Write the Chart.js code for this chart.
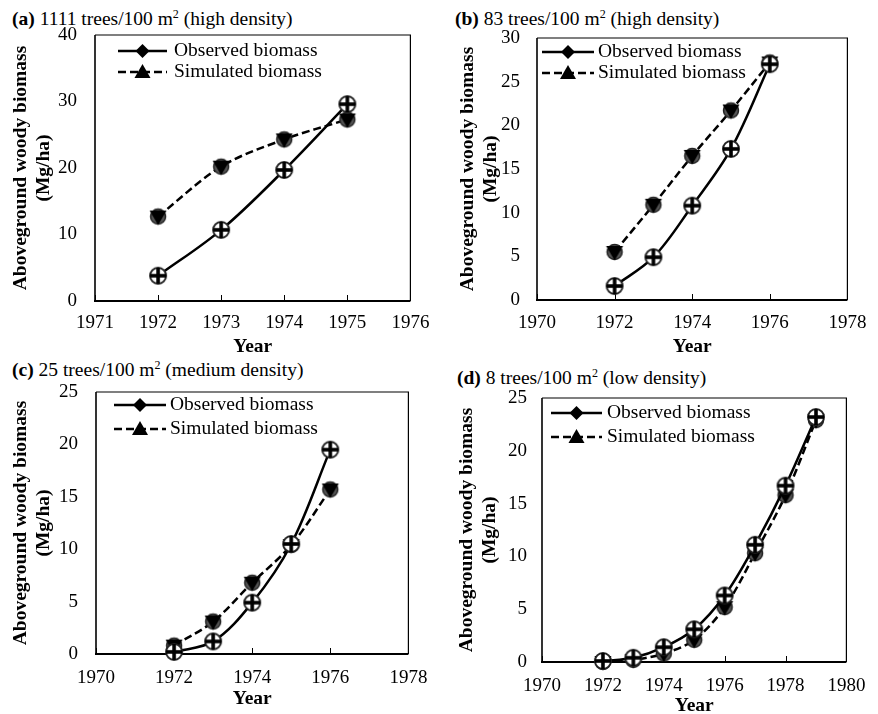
<!DOCTYPE html>
<html><head><meta charset="utf-8">
<script src="https://cdn.jsdelivr.net/npm/chart.js@4"></script>
<style>
html,body{margin:0;padding:0;background:#fff;}
body{width:878px;height:714px;position:relative;overflow:hidden;font-family:"Liberation Serif","Times New Roman",serif;color:#000;}
.panel{position:absolute;}
.ttl{position:absolute;font-size:19.5px;white-space:nowrap;line-height:1;}
.ttl sup{font-size:12px;vertical-align:top;position:relative;top:-1px;}
</style></head><body>
<div class="ttl" style="left:12px;top:9px;"><b>(a)</b> 1111 trees/100 m<sup>2</sup> (high density)</div>
<div class="ttl" style="left:455px;top:9px;"><b>(b)</b> 83 trees/100 m<sup>2</sup> (high density)</div>
<div class="ttl" style="left:12px;top:360px;"><b>(c)</b> 25 trees/100 m<sup>2</sup> (medium density)</div>
<div class="ttl" style="left:457px;top:368px;"><b>(d)</b> 8 trees/100 m<sup>2</sup> (low density)</div>
<div class="panel" style="left:0;top:0;"><canvas id="ca" width="440" height="360"></canvas></div>
<div class="panel" style="left:440px;top:0;"><canvas id="cb" width="438" height="360"></canvas></div>
<div class="panel" style="left:0;top:357px;"><canvas id="cc" width="440" height="357"></canvas></div>
<div class="panel" style="left:440px;top:357px;"><canvas id="cd" width="438" height="357"></canvas></div>
<script>
// ---- data ----
const seriesLabels = ['Observed biomass', 'Simulated biomass'];
const xTitle = 'Year';
const yTitle = ['Aboveground woody biomass', '(Mg/ha)'];

const yearsA = [1972, 1973, 1974, 1975];
const observedA = [3.8, 10.7, 19.7, 29.6];
const simulatedA = [12.7, 20.2, 24.3, 27.3];
const xRangeA = [1971, 1976, 1];
const yRangeA = [0, 40, 10];

const yearsB = [1972, 1973, 1974, 1975, 1976];
const observedB = [1.6, 4.9, 10.8, 17.3, 27.0];
const simulatedB = [5.5, 10.9, 16.5, 21.7, 27.2];
const xRangeB = [1970, 1978, 2];
const yRangeB = [0, 30, 5];

const yearsC = [1972, 1973, 1974, 1975, 1976];
const observedC = [0.2, 1.2, 4.9, 10.5, 19.5];
const simulatedC = [0.8, 3.1, 6.8, 10.4, 15.7];
const xRangeC = [1970, 1978, 2];
const yRangeC = [0, 25, 5];

const yearsD = [1972, 1973, 1974, 1975, 1976, 1977, 1978, 1979];
const observedD = [0.1, 0.4, 1.4, 3.1, 6.3, 11.1, 16.7, 23.2];
const simulatedD = [0.0, 0.2, 0.8, 2.1, 5.2, 10.3, 15.8, 22.9];
const xRangeD = [1970, 1980, 2];
const yRangeD = [0, 25, 5];

const FONT = 'Liberation Serif';
Chart.defaults.font.family = FONT;
Chart.defaults.color = '#000';

// ---- markers ----
function obsMarker() {
  const c = document.createElement('canvas'); c.width = 20; c.height = 20;
  const g = c.getContext('2d');
  g.beginPath(); g.arc(10, 10, 8, 0, Math.PI * 2);
  g.fillStyle = '#fff'; g.fill(); g.lineWidth = 2; g.strokeStyle = '#222'; g.stroke();
  g.fillStyle = '#000';
  g.fillRect(8.2, 2, 3.6, 16); g.fillRect(2, 8.2, 16, 3.6);
  return c;
}
function simMarker() {
  const c = document.createElement('canvas'); c.width = 20; c.height = 20;
  const g = c.getContext('2d');
  g.beginPath(); g.arc(10, 10, 7.5, 0, Math.PI * 2);
  g.fillStyle = '#555'; g.fill(); g.lineWidth = 1.5; g.strokeStyle = '#222'; g.stroke();
  g.beginPath(); g.moveTo(1.5, 4); g.lineTo(18.5, 4); g.lineTo(10, 18.5); g.closePath();
  g.fillStyle = '#000'; g.fill();
  return c;
}
const OBS = obsMarker(), SIM = simMarker();

// ---- plugins ----
const framePlugin = {
  id: 'frame',
  beforeDatasetsDraw(chart) {
    const { ctx, chartArea: a } = chart;
    ctx.save();
    ctx.strokeStyle = '#000';
    ctx.lineWidth = 1.2;
    ctx.beginPath();
    ctx.moveTo(a.left, a.top); ctx.lineTo(a.right, a.top); ctx.lineTo(a.right, a.bottom);
    ctx.stroke();
    ctx.lineWidth = 1.6;
    ctx.beginPath(); ctx.moveTo(a.left, a.top); ctx.lineTo(a.left, a.bottom); ctx.stroke();
    ctx.lineWidth = 2.2;
    ctx.beginPath(); ctx.moveTo(a.left - 1, a.bottom); ctx.lineTo(a.right, a.bottom); ctx.stroke();
    // inward tick marks on the x axis
    const xs = chart.scales.x;
    ctx.lineWidth = 1;
    xs.ticks.forEach(t => {
      const px = Math.round(xs.getPixelForValue(t.value)) + 0.5;
      ctx.beginPath(); ctx.moveTo(px, a.bottom); ctx.lineTo(px, a.bottom - 6); ctx.stroke();
    });
    ctx.restore();
  }
};
const legendPlugin = {
  id: 'inLegend',
  afterDraw(chart, args, o) {
    const { ctx, chartArea: a } = chart;
    chart.data.datasets.forEach((ds, i) => {
      const y = a.top + o.rows[i];
      const x0 = a.left + o.x0, x1 = a.left + o.x1, mx = (x0 + x1) / 2;
      ctx.save();
      ctx.strokeStyle = '#000'; ctx.lineWidth = 2.5;
      ctx.setLineDash(ds.borderDash || []);
      ctx.beginPath(); ctx.moveTo(x0, y); ctx.lineTo(x1, y); ctx.stroke();
      ctx.setLineDash([]);
      ctx.fillStyle = '#000';
      ctx.beginPath();
      if (i === 0) {
        ctx.moveTo(mx, y - 7); ctx.lineTo(mx + 7, y); ctx.lineTo(mx, y + 7); ctx.lineTo(mx - 7, y);
      } else {
        ctx.moveTo(mx, y - 8); ctx.lineTo(mx + 8, y + 6); ctx.lineTo(mx - 8, y + 6);
      }
      ctx.closePath(); ctx.fill();
      ctx.font = '19.5px "Liberation Serif"';
      ctx.textBaseline = 'middle'; ctx.textAlign = 'left';
      ctx.fillText(ds.label, a.left + o.tx, y);
      ctx.restore();
    });
  }
};

function makePanel(id, years, obs, sim, xr, yr, L) {
  const cv = document.getElementById(id);
  const cw = cv.width, ch = cv.height;
  const pts = (vals) => years.map((yv, i) => ({ x: yv, y: vals[i] }));
  new Chart(cv, {
    type: 'line',
    data: {
      datasets: [
        { label: seriesLabels[0], data: pts(obs), borderColor: '#000', borderWidth: 2.5,
          pointStyle: OBS, pointRadius: 8, tension: 0.35, clip: false, fill: false },
        { label: seriesLabels[1], data: pts(sim), borderColor: '#000', borderWidth: 2.5,
          borderDash: [8, 4], pointStyle: SIM, pointRadius: 8, tension: 0.35, clip: false, fill: false }
      ]
    },
    options: {
      responsive: false, animation: false, devicePixelRatio: 1,
      layout: { padding: { left: 0, top: L.T, right: cw - L.R, bottom: 0 } },
      plugins: { legend: { display: false }, tooltip: { enabled: false }, inLegend: L.leg },
      scales: {
        x: {
          type: 'linear', min: xr[0], max: xr[1],
          ticks: { stepSize: xr[2], padding: L.tickC - 11.4, color: '#000', maxRotation: 0, autoSkip: false,
                   font: { family: FONT, size: 19, lineHeight: 1.2 }, format: { useGrouping: false } },
          grid: { display: false, drawTicks: false }, border: { display: false },
          title: { display: true, text: xTitle, color: '#000',
                   font: { family: FONT, size: 19.5, weight: 'bold', lineHeight: 1.2 },
                   padding: { top: 0, bottom: ch - L.yearC - 11.7 } },
          afterFit: (s) => { s.height = ch - L.B; }
        },
        y: {
          min: yr[0], max: yr[1],
          ticks: { stepSize: yr[2], padding: L.ytp, color: '#000',
                   font: { family: FONT, size: 19, lineHeight: 1.2 } },
          grid: { display: false, drawTicks: false }, border: { display: false },
          title: { display: true, text: yTitle, color: '#000',
                   font: { family: FONT, size: 19.5, weight: 'bold', lineHeight: 1.2 },
                   padding: { top: L.t1 - 11.7, bottom: 0 } },
          afterFit: (s) => { s.width = L.L; }
        }
      }
    },
    plugins: [framePlugin, legendPlugin]
  });
}

makePanel('ca', yearsA, observedA, simulatedA, xRangeA, yRangeA,
  { L: 95, T: 35, R: 415, B: 301, tickC: 22, yearC: 347, ytp: 18, t1: 21,
    leg: { x0: 23, x1: 72, tx: 79, rows: [16, 37] } });
makePanel('cb', yearsB, observedB, simulatedB, xRangeB, yRangeB,
  { L: 97, T: 38, R: 418, B: 300, tickC: 23, yearC: 347, ytp: 17, t1: 28,
    leg: { x0: 5, x1: 57, tx: 61, rows: [14, 35] } });
makePanel('cc', yearsC, observedC, simulatedC, xRangeC, yRangeC,
  { L: 96, T: 35, R: 418, B: 297, tickC: 24, yearC: 342, ytp: 18, t1: 21,
    leg: { x0: 18, x1: 70, tx: 74, rows: [13, 37] } });
makePanel('cd', yearsD, observedD, simulatedD, xRangeD, yRangeD,
  { L: 102, T: 41, R: 420, B: 305, tickC: 24, yearC: 349, ytp: 15, t1: 27,
    leg: { x0: 9, x1: 60, tx: 65, rows: [15, 39] } });
</script>
</body></html>
